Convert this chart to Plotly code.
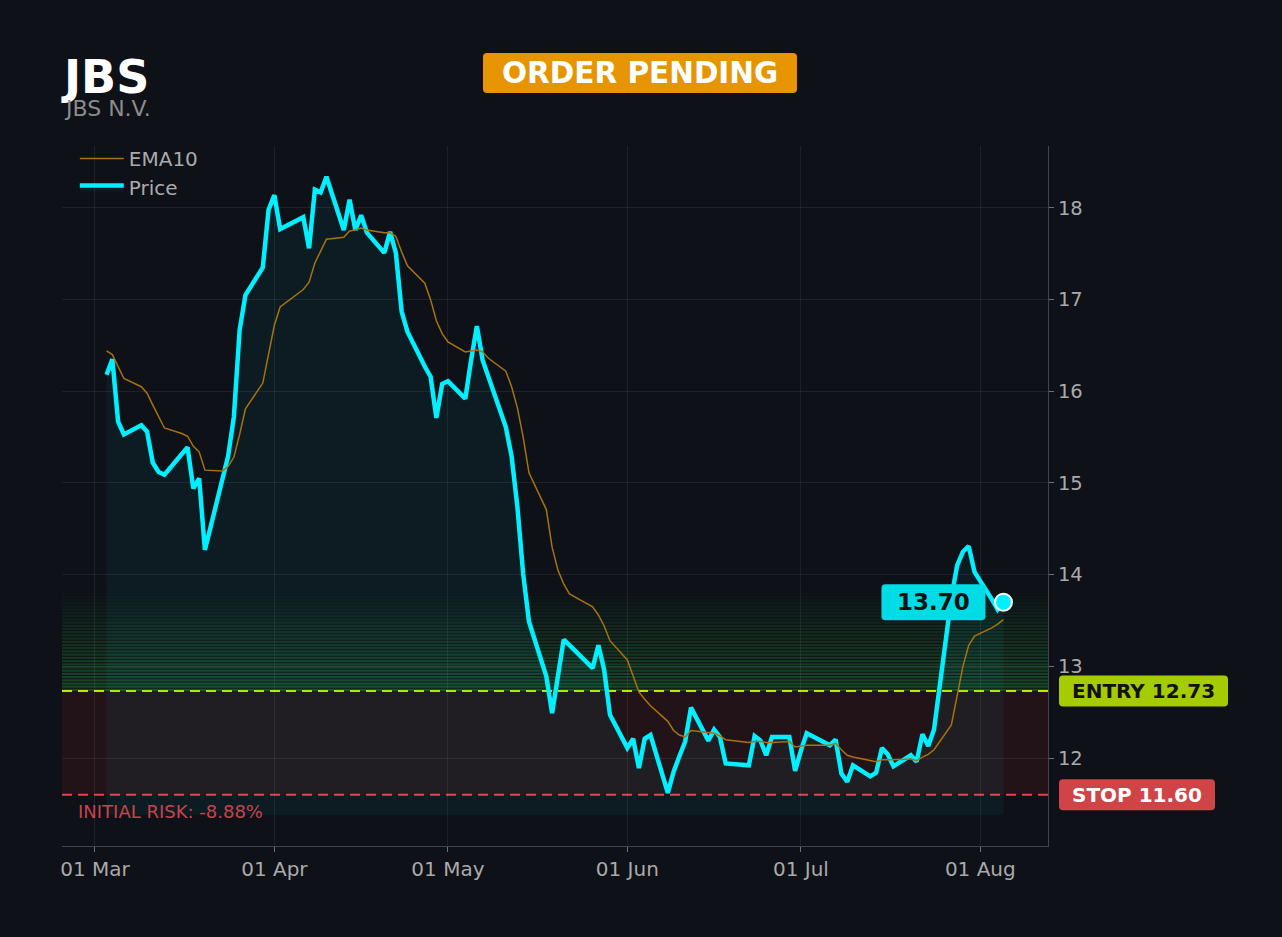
import plotly.graph_objects as go

# ---- data ----
ticker = "JBS"
company = "JBS N.V."
status = "ORDER PENDING"

dates = [
    "2026-03-03", "2026-03-04", "2026-03-05", "2026-03-06", "2026-03-09", "2026-03-10",
    "2026-03-11", "2026-03-12", "2026-03-13", "2026-03-16", "2026-03-17", "2026-03-18",
    "2026-03-19", "2026-03-20", "2026-03-23", "2026-03-24", "2026-03-25", "2026-03-26",
    "2026-03-27", "2026-03-30", "2026-03-31", "2026-04-01", "2026-04-02", "2026-04-06",
    "2026-04-07", "2026-04-08", "2026-04-09", "2026-04-10", "2026-04-13", "2026-04-14",
    "2026-04-15", "2026-04-16", "2026-04-17", "2026-04-20", "2026-04-21", "2026-04-22",
    "2026-04-23", "2026-04-24", "2026-04-27", "2026-04-28", "2026-04-29", "2026-04-30",
    "2026-05-01", "2026-05-04", "2026-05-05", "2026-05-06", "2026-05-07", "2026-05-08",
    "2026-05-11", "2026-05-12", "2026-05-13", "2026-05-14", "2026-05-15", "2026-05-18",
    "2026-05-19", "2026-05-20", "2026-05-21", "2026-05-22", "2026-05-26", "2026-05-27",
    "2026-05-28", "2026-05-29", "2026-06-01", "2026-06-02", "2026-06-03", "2026-06-04",
    "2026-06-05", "2026-06-08", "2026-06-09", "2026-06-10", "2026-06-11", "2026-06-12",
    "2026-06-15", "2026-06-16", "2026-06-17", "2026-06-18", "2026-06-22", "2026-06-23",
    "2026-06-24", "2026-06-25", "2026-06-26", "2026-06-29", "2026-06-30", "2026-07-01",
    "2026-07-02", "2026-07-06", "2026-07-07", "2026-07-08", "2026-07-09", "2026-07-10",
    "2026-07-13", "2026-07-14", "2026-07-15", "2026-07-16", "2026-07-17", "2026-07-20",
    "2026-07-21", "2026-07-22", "2026-07-23", "2026-07-24", "2026-07-27", "2026-07-28",
    "2026-07-29", "2026-07-30", "2026-07-31", "2026-08-03", "2026-08-04", "2026-08-05",
]

price = [
    16.18, 16.35, 15.67, 15.53, 15.63, 15.56, 15.22, 15.12, 15.09, 15.32, 15.39, 14.94,
    15.05, 14.27, 15.03, 15.29, 15.72, 16.67, 17.05, 17.35, 17.98, 18.14, 17.77, 17.90,
    17.56, 18.20, 18.17, 18.34, 17.76, 18.09, 17.76, 17.92, 17.73, 17.51, 17.74, 17.51,
    16.87, 16.65, 16.27, 16.16, 15.71, 16.08, 16.11, 15.92, 16.34, 16.71, 16.34, 16.15,
    15.61, 15.29, 14.74, 14.01, 13.49, 12.89, 12.49, 12.89, 13.29, 13.23, 12.98, 13.23,
    12.96, 12.47, 12.11, 12.21, 11.89, 12.21, 12.25, 11.62, 11.85, 12.02, 12.18, 12.55,
    12.19, 12.31, 12.23, 11.94, 11.92, 12.24, 12.19, 12.03, 12.23, 12.23, 11.86, 12.08,
    12.27, 12.14, 12.20, 11.83, 11.74, 11.92, 11.80, 11.84, 12.11, 12.04, 11.91, 12.03,
    11.96, 12.26, 12.13, 12.31, 13.75, 14.10, 14.25, 14.31, 14.03, 13.73, 13.62, 13.70,
]

ema10 = [
    16.44, 16.40, 16.27, 16.14, 16.05, 15.98, 15.85, 15.72, 15.60, 15.54, 15.51, 15.40,
    15.34, 15.14, 15.13, 15.18, 15.28, 15.53, 15.81, 16.09, 16.41, 16.72, 16.92, 17.11,
    17.19, 17.40, 17.53, 17.66, 17.68, 17.75, 17.76, 17.78, 17.76, 17.73, 17.73, 17.69,
    17.52, 17.37, 17.18, 17.00, 16.77, 16.63, 16.54, 16.43, 16.44, 16.45, 16.43, 16.36,
    16.22, 16.05, 15.82, 15.50, 15.11, 14.71, 14.30, 14.05, 13.90, 13.79, 13.65, 13.56,
    13.44, 13.28, 13.07, 12.89, 12.72, 12.64, 12.57, 12.40, 12.30, 12.25, 12.23, 12.30,
    12.28, 12.27, 12.24, 12.20, 12.17, 12.18, 12.18, 12.17, 12.17, 12.18, 12.12, 12.13,
    12.14, 12.14, 12.16, 12.09, 12.03, 12.01, 11.97, 11.96, 11.98, 11.98, 11.98, 11.99,
    11.97, 12.01, 12.04, 12.09, 12.36, 12.68, 13.00, 13.23, 13.33, 13.42, 13.46, 13.51,
]

entry = 12.73
stop = 11.60
zone_top = 13.85      # top of the green entry zone
fill_floor = 11.38    # bottom of the area fill under the price

BG = "#0e1117"
CYAN = "#00f0ff"
FONT = "DejaVu Sans"


def rounded_box(xa, ya, xref, yref, x0, x1, y0, y1, r, color):
    path = (f"M{x0 + r},{y0} L{x1 - r},{y0} Q{x1},{y0} {x1},{y0 + r} "
            f"L{x1},{y1 - r} Q{x1},{y1} {x1 - r},{y1} L{x0 + r},{y1} "
            f"Q{x0},{y1} {x0},{y1 - r} L{x0},{y0 + r} Q{x0},{y0} {x0 + r},{y0} Z")
    return dict(type="path", xref=xref, yref=yref, xsizemode="pixel", ysizemode="pixel",
                xanchor=xa, yanchor=ya, path=path, fillcolor=color,
                line=dict(width=0), layer="above")


fig = go.Figure()

# invisible floor so the price area stops just under the lows
fig.add_trace(go.Scatter(x=dates, y=[fill_floor] * len(dates), mode="lines",
                         line=dict(width=0), hoverinfo="skip", showlegend=False))
fig.add_trace(go.Scatter(x=dates, y=price, mode="lines", name="Price",
                         line=dict(color=CYAN, width=4.5),
                         fill="tonexty", fillcolor="rgba(0,229,255,0.05)"))
fig.add_trace(go.Scatter(x=dates, y=ema10, mode="lines", name="EMA10",
                         line=dict(color="#a6730f", width=1.5)))
fig.add_trace(go.Scatter(x=[dates[-1]], y=[price[-1]], mode="markers", showlegend=False,
                         marker=dict(size=17, color=CYAN, line=dict(color="white", width=2))))

shapes = []
# red risk zone between stop and entry
shapes.append(dict(type="rect", xref="paper", yref="y", x0=0, x1=1, y0=stop, y1=entry,
                   fillcolor="rgba(220,40,40,0.10)", line=dict(width=0), layer="below"))
# striped green gradient above entry, strongest next to the entry line
n_strips = 32
step = (zone_top - entry) / n_strips
for i in range(n_strips):
    shapes.append(dict(type="rect", xref="paper", yref="y", x0=0, x1=1,
                       y0=entry + i * step, y1=entry + (i + 0.7) * step,
                       fillcolor="rgb(45,190,70)", opacity=0.33 * (1 - i / n_strips),
                       line=dict(width=0), layer="below"))
shapes.append(dict(type="line", xref="paper", yref="y", x0=0, x1=1, y0=entry, y1=entry,
                   line=dict(color="#c6e000", width=2, dash="10px,6px"), layer="below"))
shapes.append(dict(type="line", xref="paper", yref="y", x0=0, x1=1, y0=stop, y1=stop,
                   line=dict(color="#e04545", width=2, dash="10px,6px"), layer="below"))

# badges
shapes.append(rounded_box(0.5862, 1.1043, "paper", "paper", -157, 157, -20, 20, 4, "#e69500"))
shapes.append(rounded_box(1, entry, "paper", "y", 11, 180, -15.5, 15.5, 4, "#a5cc00"))
shapes.append(rounded_box(1, stop, "paper", "y", 11, 167, -15.5, 15.5, 4, "#d04448"))
shapes.append(rounded_box(dates[-1], price[-1], "x", "y", -122, -18, -18, 18, 4, "#00dce6"))

annotations = [
    dict(text=ticker, xref="paper", yref="paper", x=0, y=1, xanchor="left", yanchor="middle",
         xshift=-3, yshift=69, showarrow=False,
         font=dict(family=FONT, size=46, color="white", weight="bold")),
    dict(text=company, xref="paper", yref="paper", x=0, y=1, xanchor="left", yanchor="middle",
         xshift=0, yshift=38, showarrow=False,
         font=dict(family=FONT, size=22, color="#8c8c8c")),
    dict(text=status, xref="paper", yref="paper", x=0.5862, y=1.1043, xanchor="center",
         yanchor="middle", showarrow=False,
         font=dict(family=FONT, size=29.5, color="white", weight="bold")),
    dict(text=f"ENTRY {entry:.2f}", xref="paper", yref="y", x=1, y=entry, xshift=95.5,
         xanchor="center", yanchor="middle", showarrow=False,
         font=dict(family=FONT, size=20, color="#111111", weight="bold")),
    dict(text=f"STOP {stop:.2f}", xref="paper", yref="y", x=1, y=stop, xshift=89,
         xanchor="center", yanchor="middle", showarrow=False,
         font=dict(family=FONT, size=20, color="white", weight="bold")),
    dict(text=f"{price[-1]:.2f}", xref="x", yref="y", x=dates[-1], y=price[-1], xshift=-70,
         xanchor="center", yanchor="middle", showarrow=False,
         font=dict(family=FONT, size=23, color="#111111", weight="bold")),
    dict(text=f"INITIAL RISK: {(stop - entry) / entry * 100:.2f}%", xref="paper", yref="y",
         x=0, y=stop, xshift=14, yshift=-17, xanchor="left", yanchor="middle", showarrow=False,
         font=dict(family=FONT, size=18, color="#c9434a")),
]

fig.update_layout(
    width=1282, height=937,
    margin=dict(l=62, r=234, t=146, b=91),
    paper_bgcolor=BG, plot_bgcolor=BG,
    font=dict(family=FONT, color="#aaaaaa", size=20),
    shapes=shapes, annotations=annotations,
    showlegend=True,
    legend=dict(x=0.013, y=1.01, xanchor="left", yanchor="top", traceorder="reversed",
                itemwidth=44, bgcolor="rgba(0,0,0,0)", font=dict(size=20, color="#aaaaaa")),
    hovermode="x unified",
)
fig.update_xaxes(
    type="date", range=["2026-02-23 07:12", "2026-08-12 16:48"],
    tick0="2026-03-01", dtick="M1", tickformat="%d %b",
    showgrid=True, gridcolor="rgba(255,255,255,0.07)", gridwidth=1,
    showline=True, linecolor="rgba(255,255,255,0.22)", linewidth=1,
    ticks="outside", ticklen=5, tickcolor="rgba(255,255,255,0.4)",
    tickfont=dict(size=20, color="#aaaaaa"), zeroline=False,
)
fig.update_yaxes(
    side="right", range=[11.04, 18.676], dtick=1,
    showgrid=True, gridcolor="rgba(255,255,255,0.07)", gridwidth=1,
    showline=True, linecolor="rgba(255,255,255,0.22)", linewidth=1,
    ticks="outside", ticklen=5, tickcolor="rgba(255,255,255,0.4)",
    tickfont=dict(size=19.5, color="#aaaaaa"), zeroline=False,
)

fig.write_html("out.html", config={"displayModeBar": False},
               post_script="document.body.style.margin='0';")
